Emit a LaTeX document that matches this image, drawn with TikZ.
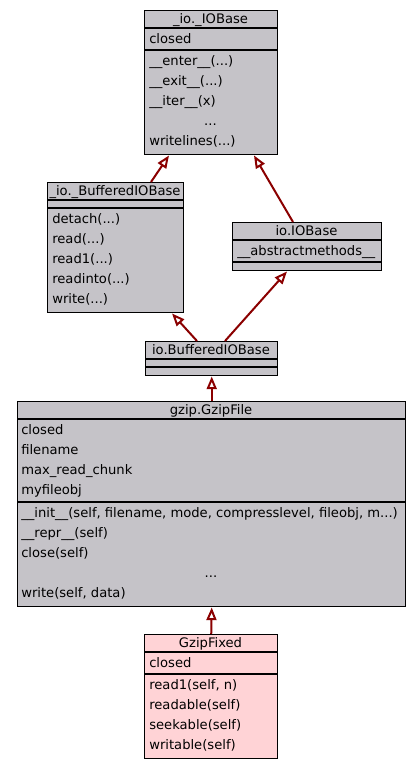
\documentclass[tikz,border=0pt]{standalone}
\usepackage{fontspec}
\setmainfont{DejaVu Sans}
\usetikzlibrary{arrows.meta,calc}
\definecolor{boxgray}{RGB}{197,195,200}
\definecolor{boxpink}{RGB}{255,211,214}
\definecolor{arrowred}{RGB}{139,0,0}
\def\px{0.75pt}
\begin{document}
\begin{tikzpicture}[x=0.75pt,y=-0.75pt,
  font=\fontsize{9.85pt}{12pt}\selectfont,
  box/.style={draw, line width=1.1pt, fill=boxgray, inner sep=0pt, anchor=north west},
  pinkbox/.style={box, fill=boxpink},
  sepline/.style={line width=1.2pt},
  txt/.style={anchor=base west, inner sep=0pt},
  ctxt/.style={anchor=base, inner sep=0pt},
  inh/.style={draw=arrowred, line width=1.5pt, -{Triangle[open, length=9.5pt, width=7.5pt, fill=white]}}]
\useasboundingbox (0,0) rectangle (420,768);
\fill[white] (0,0) rectangle (420,768);

% _io._IOBase
\node[box, minimum width=133*\px, minimum height=144*\px] (iobase) at (144,10) {};
\draw[sepline] (144,28) -- (277,28);
\draw[sepline] (144,50) -- (277,50);
\node[ctxt] (iobaseT) at (210.5,23) {\_io.\_IOBase};
\node[txt] (iobaseA1) at (149,43) {closed};
\node[txt] (iobaseM1) at (149,65) {\_\_enter\_\_(...)};
\node[txt] (iobaseM2) at (149,85) {\_\_exit\_\_(...)};
\node[txt] (iobaseM3) at (149,105) {\_\_iter\_\_(x)};
\node[ctxt] (iobaseM4) at (210.5,125) {...};
\node[txt] (iobaseM5) at (149,145) {writelines(...)};

% _io._BufferedIOBase
\node[box, minimum width=136*\px, minimum height=130*\px] (bufA) at (47,182) {};
\draw[sepline] (47,200) -- (183,200);
\draw[sepline] (47,208) -- (183,208);
\node[ctxt] (bufAT) at (115,195) {\_io.\_BufferedIOBase};
\node[txt] (bufAM1) at (52,223) {detach(...)};
\node[txt] (bufAM2) at (52,243) {read(...)};
\node[txt] (bufAM3) at (52,263) {read1(...)};
\node[txt] (bufAM4) at (52,283) {readinto(...)};
\node[txt] (bufAM5) at (52,303) {write(...)};

% io.IOBase
\node[box, minimum width=149*\px, minimum height=48*\px] (iob) at (232,222) {};
\draw[sepline] (232,240) -- (381,240);
\draw[sepline] (232,262) -- (381,262);
\node[ctxt] (iobT) at (306.5,235) {io.IOBase};
\node[txt] (iobA1) at (237,255) {\_\_abstractmethods\_\_};

% io.BufferedIOBase
\node[box, minimum width=132*\px, minimum height=34*\px] (bio) at (145,341) {};
\draw[sepline] (145,359) -- (277,359);
\draw[sepline] (145,367) -- (277,367);
\node[ctxt] (bioT) at (211,354) {io.BufferedIOBase};

% gzip.GzipFile
\node[box, minimum width=388*\px, minimum height=205*\px] (gzip) at (17,401) {};
\draw[sepline] (17,419) -- (405,419);
\draw[sepline] (17,502) -- (405,502);
\node[ctxt] (gzipT) at (211,414) {gzip.GzipFile};
\node[txt] (gzipA1) at (21,434) {closed};
\node[txt] (gzipA2) at (21,454) {filename};
\node[txt] (gzipA3) at (21,474) {max\_read\_chunk};
\node[txt] (gzipA4) at (21,494) {myfileobj};
\node[txt] (gzipM1) at (21,517) {\_\_init\_\_(self, filename, mode, compresslevel, fileobj, m...)};
\node[txt] (gzipM2) at (21,537) {\_\_repr\_\_(self)};
\node[txt] (gzipM3) at (21,557) {close(self)};
\node[ctxt] (gzipM4) at (211,577) {...};
\node[txt] (gzipM5) at (21,597) {write(self, data)};

% GzipFixed
\node[pinkbox, minimum width=133*\px, minimum height=124*\px] (gzfix) at (144,634) {};
\draw[sepline] (144,652) -- (277,652);
\draw[sepline] (144,674) -- (277,674);
\node[ctxt] (gzfixT) at (210.5,647) {GzipFixed};
\node[txt] (gzfixA1) at (149,667) {closed};
\node[txt] (gzfixM1) at (149,689) {read1(self, n)};
\node[txt] (gzfixM2) at (149,709) {readable(self)};
\node[txt] (gzfixM3) at (149,729) {seekable(self)};
\node[txt] (gzfixM4) at (149,749) {writable(self)};

% inheritance arrows
\draw[inh] ($(bufA.north west)+(104,0)$) -- ($(iobase.south west)+(25,0)$);
\draw[inh] ($(iob.north west)+(61,0)$) -- ($(iobase.south west)+(110,0)$);
\draw[inh] ($(bio.north west)+(52,0)$) -- ($(bufA.south west)+(125,0)$);
\draw[inh] ($(bio.north west)+(80,0)$) -- ($(iob.south west)+(55,0)$);
\draw[inh] (gzip.north) -- (bio.south);
\draw[inh] (gzfix.north) -- (gzip.south);
\end{tikzpicture}
\end{document}
